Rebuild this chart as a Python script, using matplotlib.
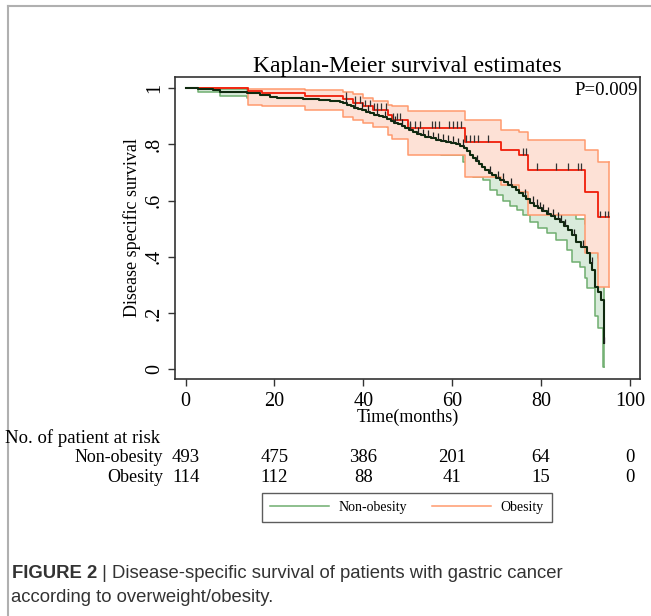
import numpy as np
import matplotlib
matplotlib.use("Agg")
import matplotlib.pyplot as plt
from matplotlib.lines import Line2D

# --- data ---
# non-obesity KM curve (time in months, survival)
t_non = [0, 2.8, 5.0, 6.2, 7.7, 10.0, 13.7, 16.7, 19.0, 20.5, 23.0, 26.5, 30.0, 32.5,
         34.7, 35.5, 36.3, 37.2, 38.0, 38.8, 39.7, 40.5, 41.5, 42.5, 43.5, 44.5, 45.4,
         46.2, 47.0, 47.8, 48.6, 49.4, 50.3, 51.2, 52.0, 52.9, 54.0, 55.2, 56.4, 57.6,
         58.7, 59.8, 60.8, 61.8, 62.6, 63.3, 64.0, 64.7, 65.4, 66.1, 66.8, 67.5, 68.2,
         69.0, 69.8, 70.7, 71.6, 72.5, 73.4, 74.3, 75.1, 75.9, 76.7, 77.5, 78.4, 79.3,
         80.3, 81.3, 82.2, 83.2, 84.2, 85.2, 86.1, 87.0, 88.0, 89.1, 90.3, 91.0, 91.6,
         92.1, 92.9, 93.6, 94.2, 94.3]
s_non = [1.0, 0.998, 0.996, 0.994, 0.988, 0.985, 0.982, 0.976, 0.970, 0.966, 0.964, 0.961,
         0.958, 0.955, 0.950, 0.946, 0.941, 0.936, 0.930, 0.926, 0.921, 0.917, 0.912, 0.906,
         0.901, 0.896, 0.890, 0.884, 0.877, 0.871, 0.865, 0.858, 0.851, 0.845, 0.838, 0.832,
         0.827, 0.822, 0.817, 0.813, 0.809, 0.805, 0.800, 0.795, 0.788, 0.778, 0.763, 0.752,
         0.740, 0.730, 0.719, 0.708, 0.698, 0.690, 0.682, 0.674, 0.665, 0.656, 0.647, 0.638,
         0.628, 0.617, 0.604, 0.591, 0.581, 0.572, 0.563, 0.554, 0.545, 0.536, 0.525, 0.511,
         0.496, 0.476, 0.454, 0.435, 0.413, 0.377, 0.353, 0.294, 0.276, 0.247, 0.092, 0.092]

# non-obesity confidence band
t_non_ci = [0, 2.8, 7.7, 13.7, 19.0, 26.5, 34.7, 38.0, 41.5, 45.4, 49.4, 52.9, 55.2, 57.6,
            61.8, 62.5, 63.3, 64.0, 64.7, 66.1, 67.0, 67.5, 68.5, 69.0, 70.0, 70.7, 71.5,
            72.5, 73.0, 74.3, 74.5, 75.9, 76.0, 77.5, 79.4, 81.3, 83.3, 85.2, 85.8, 86.9,
            88.0, 88.7, 89.9, 90.3, 91.0, 92.1, 92.9, 93.6, 94.0, 94.3]
lo_non = [1.0, 0.985, 0.972, 0.965, 0.952, 0.942, 0.928, 0.905, 0.888, 0.862, 0.828, 0.800,
          0.785, 0.763, 0.763, 0.739, 0.739, 0.715, 0.685, 0.685, 0.674, 0.674, 0.638, 0.638,
          0.620, 0.620, 0.600, 0.600, 0.580, 0.580, 0.567, 0.567, 0.550, 0.525, 0.502, 0.484,
          0.460, 0.460, 0.425, 0.383, 0.383, 0.365, 0.324, 0.288, 0.288, 0.188, 0.146, 0.146,
          0.009, 0.009]
hi_non = [1.0, 1.0, 0.997, 0.993, 0.985, 0.978, 0.970, 0.955, 0.935, 0.915, 0.885, 0.860,
          0.850, 0.840, 0.830, 0.830, 0.815, 0.800, 0.790, 0.770, 0.770, 0.750, 0.740, 0.725,
          0.718, 0.712, 0.705, 0.697, 0.690, 0.682, 0.682, 0.665, 0.665, 0.645, 0.628, 0.615,
          0.605, 0.585, 0.575, 0.555, 0.535, 0.535, 0.515, 0.505, 0.470, 0.425, 0.395, 0.330,
          0.330, 0.330]

# obesity KM curve
t_ob = [0, 14.1, 17.1, 26.9, 35.5, 37.6, 40.0, 42.2, 45.6, 46.4, 50.1, 62.9, 71.1, 75.1,
        77.1, 89.9, 92.9, 95.3]
s_ob = [1.0, 0.991, 0.983, 0.974, 0.962, 0.948, 0.935, 0.922, 0.905, 0.888, 0.858, 0.810,
        0.780, 0.762, 0.709, 0.632, 0.540, 0.540]
lo_ob = [1.0, 0.941, 0.935, 0.923, 0.899, 0.887, 0.875, 0.861, 0.835, 0.818, 0.763, 0.685,
         0.655, 0.630, 0.549, 0.413, 0.294, 0.294]
hi_ob = [1.0, 0.999, 0.997, 0.994, 0.988, 0.978, 0.966, 0.955, 0.940, 0.935, 0.920, 0.887,
         0.852, 0.845, 0.816, 0.780, 0.739, 0.739]

# censoring times
cens_non = [36.2, 38.1, 39.6, 41.1, 43.0, 44.9, 47.1, 48.6, 50.5, 52.4, 53.5, 54.6, 55.7,
            56.9, 58.0, 59.1, 60.2, 61.4, 62.5, 65.5, 68.5, 70.4, 71.5, 73.3, 76.3, 78.2,
            79.0, 79.7, 80.5, 81.6, 82.7, 83.9, 84.6, 85.5, 87.5, 89.5, 91.5, 94.25]
cens_ob = [36.2, 38.1, 39.2, 40.4, 41.5, 42.4, 43.1, 43.9, 45.1, 46.7, 47.5, 48.2, 50.5,
           51.6, 52.7, 55.4, 56.1, 57.1, 59.3, 60.2, 61.1, 62.1, 63.2, 64.0, 64.9, 65.9,
           68.1, 76.0, 76.6, 79.0, 83.3, 86.1, 88.4, 89.1, 93.4, 94.4, 95.1]

risk_times = [0, 20, 40, 60, 80, 100]
risk_non = [493, 475, 386, 201, 64, 0]
risk_ob = [114, 112, 88, 41, 15, 0]

serif = "Liberation Serif"
green_dark = "#0f2a0f"
green_ci = "#6fae6f"
green_fill = "#d9ebdb"
red = "#f01e0a"
red_ci = "#ff9a6e"
red_fill = "#fde1d6"


def step_value(times, vals, x):
    idx = np.searchsorted(times, x, side="right") - 1
    return np.asarray(vals)[idx]


fig = plt.figure(figsize=(6.51, 6.16), dpi=100)
ax = fig.add_axes([175 / 651, 1 - 379 / 616, 465 / 651, 302 / 616])

# green band, then orange band on top
ax.fill_between(t_non_ci, lo_non, hi_non, step="post", color=green_fill, lw=0, zorder=1)
ax.step(t_non_ci, lo_non, where="post", color=green_ci, lw=1.1, zorder=2)
ax.step(t_non_ci, hi_non, where="post", color=green_ci, lw=1.1, zorder=2)
ax.plot([t_non_ci[-1], t_non_ci[-1]], [lo_non[-1], hi_non[-1]], color=green_ci, lw=1.1, zorder=2)

ax.fill_between(t_ob, lo_ob, hi_ob, step="post", color=red_fill, lw=0, zorder=3)
ax.step(t_ob, lo_ob, where="post", color=red_ci, lw=1.1, zorder=4)
ax.step(t_ob, hi_ob, where="post", color=red_ci, lw=1.1, zorder=4)
ax.plot([t_ob[-1], t_ob[-1]], [lo_ob[-1], hi_ob[-1]], color=red_ci, lw=1.1, zorder=4)

ax.step(t_non, s_non, where="post", color=green_dark, lw=1.5, zorder=6)
ax.step(t_ob, s_ob, where="post", color=red, lw=1.3, zorder=5)

yc = step_value(t_non, s_non, cens_non)
ax.vlines(cens_non, yc, yc + 0.024, color="#222222", lw=0.9, zorder=7)
yc = step_value(t_ob, s_ob, cens_ob)
ax.vlines(cens_ob, yc, yc + 0.024, color="#333333", lw=0.9, zorder=7)

ax.set_xlim(-2.4, 102.3)
ax.set_ylim(-0.035, 1.04)
ax.set_xticks([0, 20, 40, 60, 80, 100])
ax.set_yticks([0, 0.2, 0.4, 0.6, 0.8, 1.0])
ax.set_yticklabels(["0", ".2", ".4", ".6", ".8", "1"], rotation=90, va="center")
ax.tick_params(direction="out", length=5, width=1, color="#333333", labelsize=14.5, pad=4)
ax.tick_params(axis="y", pad=3)
for lab in ax.get_xticklabels() + ax.get_yticklabels():
    lab.set_fontfamily(serif)
for sp in ax.spines.values():
    sp.set_color("#333333")
    sp.set_linewidth(1.2)

ax.set_title("Kaplan-Meier survival estimates", family=serif, fontsize=17, pad=3)
ax.set_xlabel("Time(months)", family=serif, fontsize=13, labelpad=-1)
ax.set_ylabel("Disease specific survival", family=serif, fontsize=13, labelpad=3)
ax.text(0.995, 0.985, "P=0.009", transform=ax.transAxes, ha="right", va="top",
        family=serif, fontsize=13.5)

# number at risk table
fig.text(5 / 651, 1 - 438 / 616, "No. of patient at risk", family=serif, fontsize=13.5,
         va="center")
fig.text(163 / 651, 1 - 457 / 616, "Non-obesity", family=serif, fontsize=13,
         va="center", ha="right")
fig.text(163 / 651, 1 - 477 / 616, "Obesity", family=serif, fontsize=13,
         va="center", ha="right")
for t, a, b in zip(risk_times, risk_non, risk_ob):
    xf = ax.transData.transform((t, 0))[0] / fig.bbox.width
    fig.text(xf, 1 - 457 / 616, str(a), family=serif, fontsize=13.5, va="center", ha="center")
    fig.text(xf, 1 - 477 / 616, str(b), family=serif, fontsize=13.5, va="center", ha="center")

# legend
handles = [Line2D([], [], color=green_ci, lw=1.1), Line2D([], [], color=red_ci, lw=1.1)]
leg = fig.legend(handles, ["Non-obesity", "Obesity"], loc="center",
                 bbox_to_anchor=(407 / 651, 1 - 507.5 / 616), ncol=2, frameon=True,
                 fancybox=False, edgecolor="#333333", handlelength=4.2, handletextpad=0.72,
                 columnspacing=1.8, borderpad=0.6, prop={"family": serif, "size": 10})
leg.get_frame().set_linewidth(1.0)

# figure border and caption
fig.add_artist(Line2D([8 / 651, 1], [1 - 6 / 616, 1 - 6 / 616], color="#b0b0b0", lw=1.5,
                      transform=fig.transFigure))
fig.add_artist(Line2D([8 / 651, 8 / 651], [0, 1 - 6 / 616], color="#b0b0b0", lw=1.5,
                      transform=fig.transFigure))
cap1 = fig.text(12 / 651, 1 - 573 / 616, "FIGURE 2", family="Liberation Sans",
                weight="bold", fontsize=13.3, va="center", color="#333333")
bb = cap1.get_window_extent(fig.canvas.get_renderer())
fig.text(bb.x1 / fig.bbox.width, 1 - 573 / 616,
         " | Disease-specific survival of patients with gastric cancer",
         family="Liberation Sans", fontsize=13.3, va="center", color="#333333")
fig.text(11 / 651, 1 - 598 / 616, "according to overweight/obesity.",
         family="Liberation Sans", fontsize=13.3, va="center", color="#333333")

fig.savefig("out.png", dpi=100)
